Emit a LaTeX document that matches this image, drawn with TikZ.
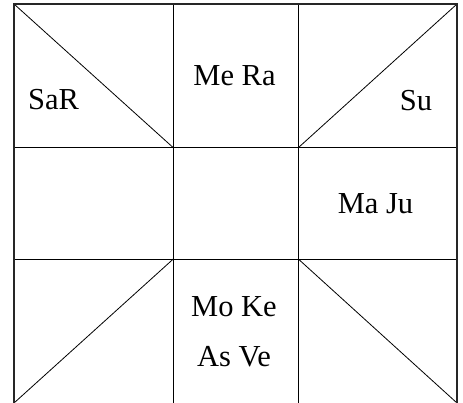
\documentclass[tikz,border=0pt]{standalone}
\usepackage{fontspec}
\setmainfont{Liberation Serif}
\begin{document}
\begin{tikzpicture}[x=1pt,y=-1pt,
  grid/.style={draw=black,line width=1pt},
  outer/.style={draw=black!85,line width=1.6pt},
  diag/.style={draw=black,line width=0.8pt},
  lbl/.style={inner sep=0pt,anchor=base,font=\fontsize{30.5}{50}\selectfont,align=center}]
\useasboundingbox (0,0) rectangle (463,402);
\begin{scope}
\clip (0,0) rectangle (463,402);
% corners and grid points
\coordinate (TL) at (14,4);
\coordinate (TR) at (457,4);
\coordinate (BL) at (14,403);
\coordinate (BR) at (457,403);
\coordinate (FB) at (457,407);
\coordinate (a1) at (173.3,147.7);
\coordinate (a2) at (298.3,147.7);
\coordinate (b1) at (173.3,259);
\coordinate (b2) at (298.3,259);
% grid lines
\draw[grid] (173.3,4) -- (173.3,407);
\draw[grid] (298.3,4) -- (298.3,407);
\draw[grid] (14,147.7) -- (457,147.7);
\draw[grid] (14,259) -- (457,259);
% diagonals
\draw[diag] (TL) -- (a1);
\draw[diag] (TR) -- (a2);
\draw[diag] (BL) -- (b1);
\draw[diag] (BR) -- (b2);
% outer frame (bottom edge lies below the visible area)
\draw[outer] (TL) rectangle (FB);
\end{scope}
% labels
\node[lbl,anchor=base west] (sar) at (28,109) {SaR};
\node[lbl] (mera) at (234.5,85) {Me Ra};
\node[lbl] (su) at (416,110) {Su};
\node[lbl] (maju) at (375.5,213.3) {Ma Ju};
\node[lbl] (moke) at (234,316.7) {Mo Ke};
\node[lbl] (asve) at (234,366.7) {As Ve};
\end{tikzpicture}
\end{document}
